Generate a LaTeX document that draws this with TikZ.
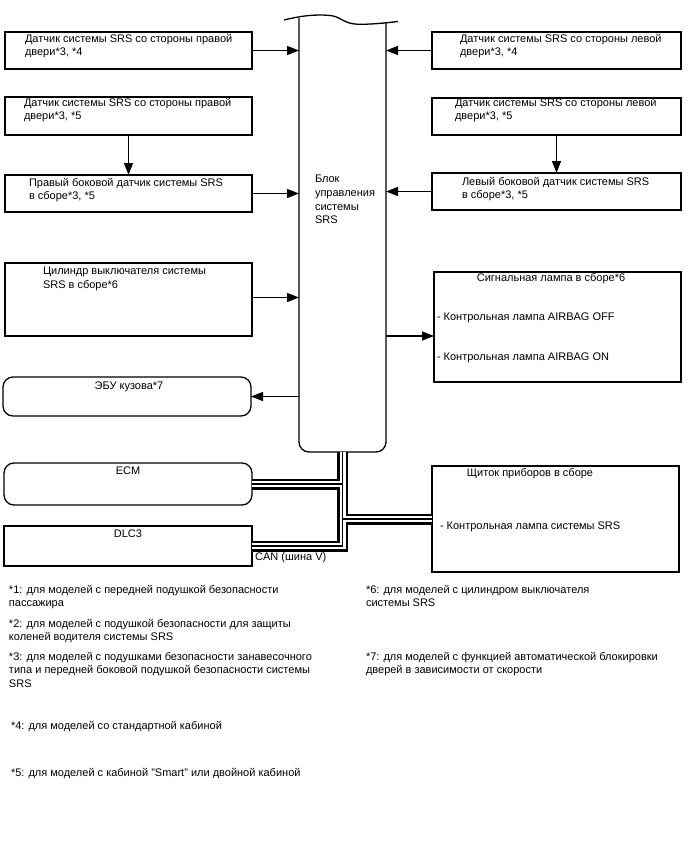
\documentclass[tikz,border=0pt]{standalone}
\usepackage{fontspec}
\setmainfont{Liberation Sans}
\usetikzlibrary{arrows.meta}
\begin{document}
\begin{tikzpicture}[x=1pt,y=-1pt,
  box/.style={draw, line width=1.3pt, inner sep=0pt, outer sep=0pt, anchor=north west},
  rbox/.style={box, rounded corners=10pt},
  txt/.style={inner sep=0pt, outer sep=0pt, anchor=north west, align=left, font=\fontsize{11}{13.8}\selectfont},
  ctxt/.style={inner sep=0pt, outer sep=0pt, anchor=north, font=\fontsize{11}{13.8}\selectfont},
  arr/.style={line width=1.3pt, -{Triangle[length=12pt,width=9pt]}},
  outl/.style={line width=1.3pt}]
\useasboundingbox (0,0) rectangle (688,852);

% central block
\node[inner sep=0pt, outer sep=0pt, minimum width=87pt, minimum height=434pt, anchor=north west] (ECU) at (299,18) {};
\draw[outl, rounded corners=10pt] (ECU.north west) -- (ECU.south west) -- (ECU.south east) -- ([yshift=-5pt]ECU.north east);
\draw[outl] (284,20) .. controls (300,16) and (315,14) .. (330,15.5) .. controls (341,16.5) and (343,23.5) .. (357,24.2) .. controls (370,24.6) and (385,23) .. (398,21.5);
\node[txt] (ECUt) at (315,175) {Блок\\управления\\системы\\SRS};

% left boxes
\node[box, minimum width=247pt, minimum height=37pt] (L1) at (5,32) {};
\node[txt] (L1t) at (25,34) {Датчик системы SRS со стороны правой\\двери*3, *4};
\node[box, minimum width=247pt, minimum height=38pt] (L2) at (5,97) {};
\node[txt] (L2t) at (24,98) {Датчик системы SRS со стороны правой\\двери*3, *5};
\node[box, minimum width=247pt, minimum height=37pt] (L3) at (5,175) {};
\node[txt] (L3t) at (29,178) {Правый боковой датчик системы SRS\\в сборе*3, *5};
\node[box, minimum width=247pt, minimum height=73pt] (CYL) at (5,263) {};
\node[txt] (CYLt) at (43,267) {Цилиндр выключателя системы\\SRS в сборе*6};
\node[rbox, minimum width=248pt, minimum height=39pt] (EBU) at (3,377) {};
\node[ctxt] (EBUt) at (129,382) {ЭБУ кузова*7};
\node[rbox, minimum width=248pt, minimum height=42pt] (ECM) at (4,463) {};
\node[ctxt] (ECMt) at (128,467) {ECM};
\node[box, minimum width=248pt, minimum height=40pt] (DLC) at (4,526) {};
\node[ctxt] (DLCt) at (128,530) {DLC3};

% right boxes
\node[box, minimum width=249pt, minimum height=37pt] (R1) at (432,32) {};
\node[txt] (R1t) at (460,34) {Датчик системы SRS со стороны левой\\двери*3, *4};
\node[box, minimum width=249pt, minimum height=37pt] (R2) at (432,98) {};
\node[txt] (R2t) at (455,98) {Датчик системы SRS со стороны левой\\двери*3, *5};
\node[box, minimum width=249pt, minimum height=37pt] (R3) at (432,173) {};
\node[txt] (R3t) at (462,177) {Левый боковой датчик системы SRS\\в сборе*3, *5};
\node[box, minimum width=247pt, minimum height=110pt] (SL) at (434,272) {};
\node[ctxt] (SLt) at (551,273) {Сигнальная лампа в сборе*6};
\node[txt] (SLa) at (437,313) {- Контрольная лампа AIRBAG OFF};
\node[txt] (SLb) at (437,353) {- Контрольная лампа AIRBAG ON};
\node[box, minimum width=247pt, minimum height=106pt] (IP) at (432,466) {};
\node[ctxt] (IPt) at (530,468) {Щиток приборов в сборе};
\node[txt] (IPa) at (440,522) {- Контрольная лампа системы SRS};

% arrows
\draw[arr] (L1.east) -- (L1.east -| ECU.west);
\draw[arr] (L2.south) -- (L3.north);
\draw[arr] (L3.east) -- (L3.east -| ECU.west);
\draw[arr] ([yshift=2pt]CYL.east) -- ([yshift=2pt]CYL.east -| ECU.west);
\draw[arr] (ECU.west |- EBU.east) -- (EBU.east);
\draw[arr] (R1.west) -- (R1.west -| ECU.east);
\draw[arr] (R2.south) -- (R3.north);
\draw[arr] (R3.west) -- (R3.west -| ECU.east);
\draw[arr] ([yshift=-9pt]ECU.east |- SL.west) -- ([yshift=-9pt]SL.west);

% CAN bus
\foreach \w/\c in {11/black,6/white,1.5/black}{
  \draw[line width=\w pt, \c, line join=miter] (ECU.south) -- (ECU.south |- DLC.east) -- (DLC.east);
  \draw[line width=\w pt, \c] (ECU.south |- ECM.east) -- (ECM.east);
  \draw[line width=\w pt, \c] (ECU.south |- IP.west) -- (IP.west);
}
\node[inner sep=0pt, anchor=west, font=\fontsize{11}{13.8}\selectfont] (CAN) at (255,558) {CAN (шина V)};

% footnotes
\node[txt] (f1) at (9,585) {*1: для моделей с передней подушкой безопасности\\пассажира};
\node[txt] (f2) at (9,619) {*2: для моделей с подушкой безопасности для защиты\\коленей водителя системы SRS};
\node[txt] (f3) at (9,652) {*3: для моделей с подушками безопасности занавесочного\\типа и передней боковой подушкой безопасности системы\\SRS};
\node[txt] (f4) at (11,721) {*4: для моделей со стандартной кабиной};
\node[txt] (f5) at (11,768) {*5: для моделей с кабиной "Smart" или двойной кабиной};
\node[txt] (f6) at (366,585) {*6: для моделей с цилиндром выключателя\\системы SRS};
\node[txt] (f7) at (366,652) {*7: для моделей с функцией автоматической блокировки\\дверей в зависимости от скорости};
\end{tikzpicture}
\end{document}
